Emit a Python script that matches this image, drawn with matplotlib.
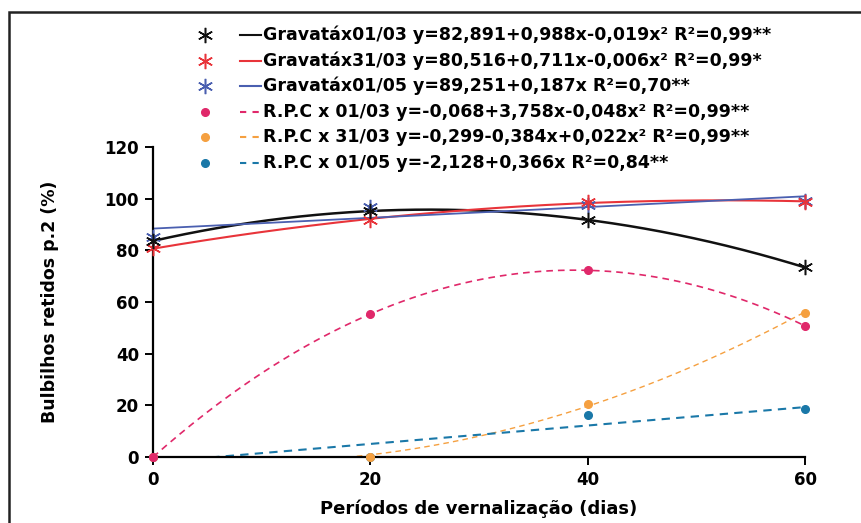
import numpy as np
import matplotlib
matplotlib.use("Agg")
import matplotlib.pyplot as plt
from matplotlib.lines import Line2D
from matplotlib.patches import Rectangle

plt.rcParams['font.family'] = ['DejaVu Sans']
plt.rcParams['font.weight'] = 'bold'

# Data
dias = [0, 20, 40, 60]
grav_0103 = [83.6, 95.3, 91.7, 73.4]
grav_3103 = [80.8, 91.7, 98.8, 98.8]
grav_0105 = [85.3, 96.9, 97.5, 99.0]
rpc_0103 = [0, 55.2, 72.4, 50.7]
rpc_3103 = [0, 0, 20.5, 55.9]
rpc_0105 = [0, 0, 16.1, 18.4]

labels = [
    "Gravatáx01/03 y=82,891+0,988x-0,019x² R²=0,99**",
    "Gravatáx31/03 y=80,516+0,711x-0,006x² R²=0,99*",
    "Gravatáx01/05 y=89,251+0,187x R²=0,70**",
    "R.P.C x 01/03 y=-0,068+3,758x-0,048x² R²=0,99**",
    "R.P.C x 31/03 y=-0,299-0,384x+0,022x² R²=0,99**",
    "R.P.C x 01/05 y=-2,128+0,366x R²=0,84**",
]
series = [grav_0103, grav_3103, grav_0105, rpc_0103, rpc_3103, rpc_0105]
degrees = [2, 2, 1, 2, 2, 1]
colors = ['#111111', '#e8343a', '#4a5fb0', '#e0286a', '#f5a040', '#1a78a8']
star = (6, 2, 0)
markers = [star, star, star, 'o', 'o', 'o']
styles = ['-', '-', '-', '--', '--', '--']
widths = [1.8, 1.5, 1.3, 1.2, 1.0, 1.5]

fig = plt.figure(figsize=(8.62, 5.23), dpi=100)
ax = fig.add_axes([0.1775, 0.1262, 0.7565, 0.5927])

x = np.array(dias, dtype=float)
xs = np.linspace(0, 60, 200)
for i, (ys, deg, c, m, ls, lw) in enumerate(zip(series, degrees, colors, markers, styles, widths)):
    coef = np.polyfit(x, ys, deg)
    ax.plot(xs, np.polyval(coef, xs), color=c, ls=ls, lw=lw,
            dashes=(4, 3) if ls == '--' else (None, None))
    z = 10 - i  # earlier series sit on top
    if m == 'o':
        ax.plot(x, ys, 'o', color=c, ms=5.5, clip_on=False, zorder=z)
    else:
        ax.plot(x, ys, marker=m, ls='none', color=c, ms=11, mew=1.1,
                clip_on=False, zorder=z)

ax.set_xlim(0, 60)
ax.set_ylim(0, 120)
ax.set_xticks(dias)
ax.set_yticks(range(0, 121, 20))
for s in ['top', 'right']:
    ax.spines[s].set_visible(False)
for s in ['left', 'bottom']:
    ax.spines[s].set_linewidth(1.6)
ax.tick_params(direction='out', length=6, width=1.4, labelsize=12, pad=4)
for t in ax.get_xticklabels() + ax.get_yticklabels():
    t.set_fontweight('bold')
ax.set_xlabel("Períodos de vernalização (dias)", fontsize=13, fontweight='bold', labelpad=8)
ax.set_ylabel("Bulbilhos retidos p.2 (%)", fontsize=12.5, fontweight='bold', labelpad=33)

# legend drawn by hand to keep the marker / short line / text layout
W, H = 862, 523
y0 = 35
dy = 25.6
for i, (lab, c, m, ls) in enumerate(zip(labels, colors, markers, styles)):
    yy = 1 - (y0 + i * dy) / H
    if m == 'o':
        fig.add_artist(Line2D([205 / W], [yy], marker='o', color=c, ms=5.5))
    else:
        fig.add_artist(Line2D([205 / W], [yy], marker=m, color=c, ms=11, mew=1.1))
    fig.add_artist(Line2D([240 / W, 261 / W], [yy, yy], color=c, lw=1.5,
                          ls=ls, dashes=(3, 3) if ls == '--' else (None, None)))
    fig.text(263 / W, yy, lab, fontsize=12.5, fontweight='bold', va='center', ha='left')

# outer frame of the scanned figure
fig.add_artist(Rectangle((9 / W, -0.05), 1.1, 1 - 12 / H + 0.05, fill=False,
                         lw=1.8, ec='#222222', transform=fig.transFigure))

fig.savefig("out.png", dpi=100)
